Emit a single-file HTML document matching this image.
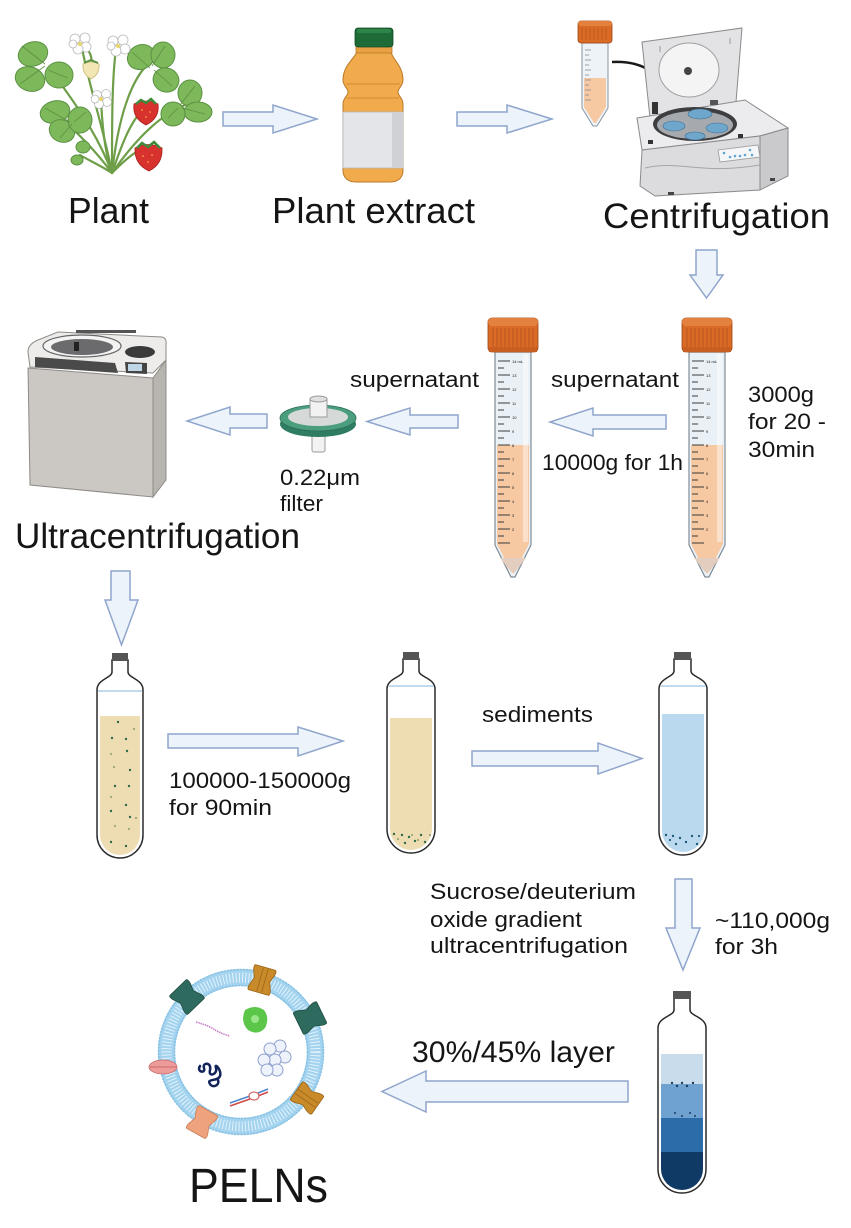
<!DOCTYPE html>
<html><head><meta charset="utf-8"><style>
html,body{margin:0;padding:0;background:#fff;}
svg{display:block;}
text{font-family:"Liberation Sans",Arial,sans-serif;fill:#151515;}
</style></head><body>
<svg width="851" height="1228" viewBox="0 0 851 1228" xmlns="http://www.w3.org/2000/svg">
<rect width="851" height="1228" fill="#fff"/>

<!-- ============ PLANT ============ -->
<g stroke="#6E9E48" stroke-width="2.2" fill="none" stroke-linecap="round">
  <path d="M112,173 C100,140 80,110 58,80"/>
  <path d="M112,173 C104,130 90,90 82,48"/>
  <path d="M112,173 C112,120 112,80 116,48"/>
  <path d="M112,173 C118,120 130,80 150,62"/>
  <path d="M112,173 C135,140 160,115 185,105"/>
  <path d="M112,173 C120,150 130,120 145,108"/>
  <path d="M112,173 C125,160 138,148 148,148"/>
  <path d="M112,173 C104,150 102,120 101,100"/>
  <path d="M112,173 C95,150 75,130 62,120"/>
  <path d="M112,173 C100,165 88,160 80,155"/>
  <path d="M88,50 C92,56 92,62 91,66"/>
</g>
<g fill="#7DB85B" stroke="#5B9142" stroke-width="1">
  <ellipse cx="33" cy="54" rx="15" ry="12" transform="rotate(-20 33 54)"/>
  <ellipse cx="30" cy="79" rx="15" ry="12" transform="rotate(20 30 79)"/>
  <ellipse cx="59" cy="75" rx="14" ry="13"/>
  <ellipse cx="141" cy="57" rx="14" ry="12" transform="rotate(-30 141 57)"/>
  <ellipse cx="163" cy="55" rx="12" ry="13"/>
  <ellipse cx="166" cy="80" rx="13" ry="12" transform="rotate(20 166 80)"/>
  <ellipse cx="190" cy="93" rx="12" ry="13"/>
  <ellipse cx="198" cy="112" rx="14" ry="10"/>
  <ellipse cx="173" cy="114" rx="12" ry="12"/>
  <ellipse cx="55" cy="112" rx="15" ry="11" transform="rotate(-15 55 112)"/>
  <ellipse cx="62" cy="131" rx="13" ry="11" transform="rotate(25 62 131)"/>
  <ellipse cx="80" cy="120" rx="12" ry="13"/>
  <ellipse cx="83" cy="147" rx="7" ry="6"/>
  <ellipse cx="77" cy="160" rx="6" ry="5"/>
</g>
<g stroke="#5B9142" stroke-width="0.8" fill="none">
  <path d="M45,64 L22,46 M45,66 L20,84 M48,70 L68,78 M150,68 L132,52 M152,66 L165,46 M154,70 L172,86 M180,105 L195,86 M182,108 L205,114 M178,108 L168,118 M70,122 L45,108 M72,124 L60,138 M74,122 L86,112"/>
</g>
<!-- flowers -->
<g fill="#fff" stroke="#B9B9B9" stroke-width="0.8">
  <circle cx="75" cy="39" r="5"/><circle cx="85" cy="38" r="5"/><circle cx="86" cy="47" r="5"/><circle cx="78" cy="49" r="5"/><circle cx="73" cy="44" r="4"/>
  <circle cx="113" cy="41" r="5"/><circle cx="123" cy="40" r="5"/><circle cx="125" cy="49" r="5"/><circle cx="116" cy="51" r="5"/><circle cx="111" cy="46" r="4"/>
  <circle cx="97" cy="95" r="4.5"/><circle cx="106" cy="94" r="4.5"/><circle cx="107" cy="102" r="4.5"/><circle cx="99" cy="104" r="4.5"/><circle cx="95" cy="99" r="4"/>
</g>
<circle cx="80" cy="44" r="2" fill="#E8D56A"/><circle cx="118" cy="46" r="2" fill="#E8D56A"/><circle cx="101" cy="99" r="2" fill="#E8D56A"/>
<!-- white strawberry -->
<path d="M83,64 Q91,60 99,64 Q100,74 91,79 Q82,74 83,64 Z" fill="#F1E6B4" stroke="#C9B97A" stroke-width="0.8"/>
<path d="M84,63 L91,60 L98,63" stroke="#5B9142" stroke-width="2" fill="none"/>
<!-- red strawberries -->
<path d="M134,104 Q146,98 158,104 Q160,118 146,125 Q132,118 134,104 Z" fill="#D8322E" stroke="#A8221F" stroke-width="0.8"/>
<path d="M136,104 L141,100 L146,103 L151,99 L156,104" stroke="#3E8A3A" stroke-width="2.5" fill="none"/>
<path d="M135,148 Q148,141 162,148 Q163,164 149,171 Q134,164 135,148 Z" fill="#D8322E" stroke="#A8221F" stroke-width="0.8"/>
<path d="M137,148 L142,143 L148,147 L154,142 L160,148" stroke="#3E8A3A" stroke-width="2.5" fill="none"/>
<g fill="#F5C04A"><circle cx="142" cy="110" r="0.8"/><circle cx="150" cy="112" r="0.8"/><circle cx="146" cy="117" r="0.8"/><circle cx="143" cy="156" r="0.8"/><circle cx="152" cy="155" r="0.8"/><circle cx="148" cy="162" r="0.8"/></g>

<text x="68" y="223" font-size="36" textLength="81" lengthAdjust="spacingAndGlyphs">Plant</text>

<!-- ============ BOTTLE ============ -->
<path d="M357,52 H391 C393,60 403,66 403,80 C403,86 398,88 398,92 C398,96 403,98 403,104 V170 C403,178 398,182 390,182 H356 C348,182 343,178 343,170 V104 C343,98 348,96 348,92 C348,88 343,86 343,80 C343,66 353,60 357,52 Z" fill="#F2AB4C" stroke="#B87A2A" stroke-width="1"/>
<path d="M346,84 H400 M347,98 H399" stroke="#D48B2E" stroke-width="1"/>
<rect x="343" y="112" width="60" height="56" fill="#E4E5E8" stroke="#B5B7BA" stroke-width="0.8"/>
<rect x="392" y="112" width="11" height="56" fill="#CFD1D4"/>
<rect x="356" y="45" width="36" height="8" fill="#E9A043" stroke="#B87A2A" stroke-width="0.8"/>
<rect x="355" y="28" width="38" height="19" rx="3" fill="#1F6B38" stroke="#124A26" stroke-width="0.8"/>
<rect x="357" y="29" width="34" height="4" rx="2" fill="#2E8549"/>

<text x="272" y="223" font-size="36" textLength="203" lengthAdjust="spacingAndGlyphs">Plant extract</text>

<!-- ============ SMALL TUBE TOP ============ -->
<path d="M582,43 H608 V108 L597,126 H593 L582,108 Z" fill="#EEF3F7" stroke="#8795A0" stroke-width="1"/>
<path d="M584,78 H606 V107 L596,123 H594 L584,107 Z" fill="#F7C9A3"/>
<g stroke="#7A8690" stroke-width="0.7"><path d="M585,50 H591 M585,55 H589 M585,60 H591 M585,65 H589 M585,70 H591 M585,75 H589 M585,80 H591 M585,85 H589 M585,90 H591 M585,95 H589 M585,100 H591"/></g>
<rect x="578" y="21" width="34" height="22" rx="3" fill="#D96B27" stroke="#9C4616" stroke-width="0.8"/>
<rect x="578" y="21" width="34" height="5" rx="2.5" fill="#E5813E"/>
<g stroke="#B8561C" stroke-width="0.8"><path d="M582,28 V40 M586,28 V40 M590,28 V40 M594,28 V40 M598,28 V40 M602,28 V40 M606,28 V40"/></g>

<!-- curved arrow -->
<path d="M612,62 Q652,60 666,90" stroke="#1a1a1a" stroke-width="2.5" fill="none"/>
<path d="M658,88 L673,104 L675,83 Z" fill="#1a1a1a"/>

<!-- ============ CENTRIFUGE ============ -->
<polygon points="642,42 742,28 736,102 650,118" fill="#E3E3E5" stroke="#8A8A8C" stroke-width="1"/>
<ellipse cx="689" cy="70" rx="30" ry="27" fill="#F4F4F5" stroke="#A0A0A2" stroke-width="1"/>
<circle cx="688" cy="71" r="4" fill="#444"/>
<path d="M660,46 v6 M730,38 v6" stroke="#999" stroke-width="1"/>
<!-- top face -->
<polygon points="637,118 745,100 788,128 760,136 642,150" fill="#ECECEE" stroke="#8A8A8C" stroke-width="1"/>
<!-- front face -->
<polygon points="642,150 760,136 760,190 655,196 640,186" fill="#DCDCDE" stroke="#8A8A8C" stroke-width="1"/>
<!-- right face -->
<polygon points="760,136 788,128 788,176 760,190" fill="#CACACD" stroke="#8A8A8C" stroke-width="1"/>
<path d="M645,168 C680,160 700,175 760,165" stroke="#A5A5A8" stroke-width="1" fill="none"/>
<!-- bowl -->
<ellipse cx="695" cy="124" rx="42" ry="17" fill="#3E3E40"/>
<ellipse cx="695" cy="125" rx="38" ry="14" fill="#A6AAAE"/>
<g fill="#6FA6CC" stroke="#3F6F92" stroke-width="0.6">
  <ellipse cx="700" cy="114" rx="12" ry="5"/>
  <ellipse cx="674" cy="126" rx="11" ry="5"/>
  <ellipse cx="717" cy="128" rx="11" ry="5"/>
  <ellipse cx="695" cy="136" rx="10" ry="4"/>
</g>
<rect x="652" y="102" width="6" height="12" fill="#333"/>
<rect x="710" y="100" width="8" height="5" fill="#555"/>
<rect x="648" y="140" width="5" height="4" fill="#333"/>
<rect x="738" y="134" width="5" height="4" fill="#333"/>
<polygon points="718,150 758,145 760,157 720,162" fill="#F5F6F8" stroke="#9A9A9C" stroke-width="0.8"/>
<g fill="#5FA5D2"><circle cx="724" cy="153" r="1.3"/><circle cx="730" cy="157" r="1.3"/><circle cx="735" cy="156" r="1.3"/><circle cx="740" cy="156" r="1.3"/><circle cx="745" cy="155" r="1.3"/><circle cx="750" cy="150" r="1.3"/><circle cx="752" cy="155" r="1.3"/></g>
<rect x="668" y="192" width="6" height="3" fill="#444"/><rect x="770" y="178" width="5" height="3" fill="#444"/>

<text x="603" y="228" font-size="35" textLength="227" lengthAdjust="spacingAndGlyphs">Centrifugation</text>

<!-- ============ ARROWS ============ -->
<g fill="#EDF3FB" stroke="#8FA5CB" stroke-width="1.5" stroke-linejoin="miter">
  <polygon points="223,112 273,112 273,105 317,119 273,133 273,126 223,126"/>
  <polygon points="457,112 507,112 507,105 552,119 507,133 507,126 457,126"/>
  <polygon points="696,250 717,250 717,275 723,275 706.5,298 690,275 696,275"/>
  <polygon points="666,415 593,415 593,408 550,422 593,436 593,429 666,429"/>
  <polygon points="458,415 410,415 410,408 367,421.5 410,435 410,428 458,428"/>
  <polygon points="267,414 230,414 230,407 187,421 230,435 230,428 267,428"/>
  <polygon points="111,571 130,571 130,600 138,600 121.5,645 105,600 111,600"/>
  <polygon points="168,734 298,734 298,727 343,741 298,756 298,748 168,748"/>
  <polygon points="472,751 598,751 598,743 642,758.5 598,774 598,766 472,766"/>
  <polygon points="675,879 692,879 692,928 700,928 683,970 666,928 675,928"/>
  <polygon points="628,1081 426,1081 426,1071 382,1091.5 426,1112 426,1102 628,1102"/>
</g>

<!-- ============ ULTRACENTRIFUGE ============ -->
<polygon points="28,368 153,378 153,497 30,485" fill="#CBC8C4" stroke="#8E8B87" stroke-width="1"/>
<polygon points="153,378 166,360 166,480 153,497" fill="#B8B5B1" stroke="#8E8B87" stroke-width="1"/>
<path d="M28,352 Q28,344 38,340 L58,332 L162,337 Q167,338 166,345 L166,360 L153,373 L30,367 Z" fill="#EDECEA" stroke="#8E8B87" stroke-width="1"/>
<rect x="76" y="330" width="60" height="3" fill="#555"/>
<polygon points="35,357 115,363 118,373 35,367" fill="#4A4A4A"/>
<ellipse cx="82" cy="346" rx="39" ry="11" fill="#F3F3F3" stroke="#666" stroke-width="1.2"/>
<ellipse cx="82" cy="347" rx="31" ry="8" fill="#6B6B6D"/>
<rect x="74" y="342" width="5" height="9" fill="#222"/>
<ellipse cx="140" cy="352" rx="15" ry="6" fill="#3A3A3A"/>
<polygon points="125,362 147,363 147,374 126,373" fill="#444"/>
<rect x="128" y="364" width="14" height="7" fill="#BFD6E6"/>

<text x="15" y="548" font-size="35" textLength="285" lengthAdjust="spacingAndGlyphs">Ultracentrifugation</text>

<!-- ============ FILTER ============ -->
<rect x="312" y="426" width="13" height="26" rx="2" fill="#F2F2F2" stroke="#9A9A9A" stroke-width="1"/>
<ellipse cx="318" cy="424" rx="38" ry="13" fill="#2E7D63"/>
<ellipse cx="318" cy="418" rx="38" ry="13" fill="#4A9E7E" stroke="#2B6E56" stroke-width="0.8"/>
<ellipse cx="318" cy="417" rx="30" ry="9" fill="#D5D9D8"/>
<rect x="310" y="399" width="17" height="18" fill="#F2F2F2" stroke="#9A9A9A" stroke-width="1"/>
<ellipse cx="318.5" cy="399" rx="8.5" ry="3" fill="#E0E0E0" stroke="#9A9A9A" stroke-width="1"/>

<text x="280" y="485" font-size="22" textLength="80" lengthAdjust="spacingAndGlyphs">0.22μm</text>
<text x="280" y="511" font-size="22" textLength="43" lengthAdjust="spacingAndGlyphs">filter</text>
<text x="350" y="387" font-size="22" textLength="129" lengthAdjust="spacingAndGlyphs">supernatant</text>
<text x="551" y="387" font-size="22" textLength="128" lengthAdjust="spacingAndGlyphs">supernatant</text>
<text x="542" y="470" font-size="22" textLength="141" lengthAdjust="spacingAndGlyphs">10000g for 1h</text>
<text x="748" y="402" font-size="22" textLength="66" lengthAdjust="spacingAndGlyphs">3000g</text>
<text x="748" y="429" font-size="22" textLength="78" lengthAdjust="spacingAndGlyphs">for 20 -</text>
<text x="748" y="457" font-size="22" textLength="67" lengthAdjust="spacingAndGlyphs">30min</text>

<!-- ============ CONICAL TUBES ============ -->
<g transform="translate(488,318)">
  <path d="M7,34 H43 V227 L27,259 H23 L7,227 Z" fill="#EAF1F6" stroke="#7E8C96" stroke-width="1.2"/>
  <path d="M9,127 H41 V226 L26,255 H24 L9,226 Z" fill="#F7C9A3"/>
  <path d="M12,240 L38,240 L27,254 H23 Z" fill="#E2CDBE"/>
  <rect x="35" y="36" width="5" height="188" fill="#fff" opacity="0.45"/>
  <g stroke="#3A3A3A" stroke-width="0.9">
    <path d="M10,43 H22 M10,50 H16 M10,57 H22 M10,64 H16 M10,71 H22 M10,78 H16 M10,85 H22 M10,92 H16 M10,99 H22 M10,106 H16 M10,113 H22 M10,120 H16 M10,127 H22 M10,134 H16 M10,141 H22 M10,148 H16 M10,155 H22 M10,162 H16 M10,169 H22 M10,176 H16 M10,183 H22 M10,190 H16 M10,197 H22 M10,204 H16 M10,211 H22 M10,218 H16 M10,225 H22"/>
  </g>
  <g font-size="4" fill="#666"><text x="24" y="45">14 mL</text><text x="24" y="59">13</text><text x="24" y="73">12</text><text x="24" y="87">11</text><text x="24" y="101">10</text><text x="24" y="115">9</text><text x="24" y="129">8</text><text x="24" y="143">7</text><text x="24" y="157">6</text><text x="24" y="171">5</text><text x="24" y="185">4</text><text x="24" y="199">3</text><text x="24" y="213">2</text></g>
  <rect x="0" y="0" width="50" height="34" rx="4" fill="#D96B27" stroke="#9C4616" stroke-width="0.8"/>
  <rect x="0" y="0" width="50" height="8" rx="4" fill="#E5813E"/>
  <g stroke="#B8561C" stroke-width="0.9"><path d="M5,10 V29 M9,10 V29 M13,10 V29 M17,10 V29 M21,10 V29 M25,10 V29 M29,10 V29 M33,10 V29 M37,10 V29 M41,10 V29 M45,10 V29"/></g>
  <rect x="1" y="29" width="48" height="5" fill="#C85F20"/>
</g>
<g transform="translate(682,318)">
  <path d="M7,34 H43 V227 L27,259 H23 L7,227 Z" fill="#EAF1F6" stroke="#7E8C96" stroke-width="1.2"/>
  <path d="M9,127 H41 V226 L26,255 H24 L9,226 Z" fill="#F7C9A3"/>
  <path d="M12,240 L38,240 L27,254 H23 Z" fill="#E2CDBE"/>
  <rect x="35" y="36" width="5" height="188" fill="#fff" opacity="0.45"/>
  <g stroke="#3A3A3A" stroke-width="0.9">
    <path d="M10,43 H22 M10,50 H16 M10,57 H22 M10,64 H16 M10,71 H22 M10,78 H16 M10,85 H22 M10,92 H16 M10,99 H22 M10,106 H16 M10,113 H22 M10,120 H16 M10,127 H22 M10,134 H16 M10,141 H22 M10,148 H16 M10,155 H22 M10,162 H16 M10,169 H22 M10,176 H16 M10,183 H22 M10,190 H16 M10,197 H22 M10,204 H16 M10,211 H22 M10,218 H16 M10,225 H22"/>
  </g>
  <g font-size="4" fill="#666"><text x="24" y="45">14 mL</text><text x="24" y="59">13</text><text x="24" y="73">12</text><text x="24" y="87">11</text><text x="24" y="101">10</text><text x="24" y="115">9</text><text x="24" y="129">8</text><text x="24" y="143">7</text><text x="24" y="157">6</text><text x="24" y="171">5</text><text x="24" y="185">4</text><text x="24" y="199">3</text><text x="24" y="213">2</text></g>
  <rect x="0" y="0" width="50" height="34" rx="4" fill="#D96B27" stroke="#9C4616" stroke-width="0.8"/>
  <rect x="0" y="0" width="50" height="8" rx="4" fill="#E5813E"/>
  <g stroke="#B8561C" stroke-width="0.9"><path d="M5,10 V29 M9,10 V29 M13,10 V29 M17,10 V29 M21,10 V29 M25,10 V29 M29,10 V29 M33,10 V29 M37,10 V29 M41,10 V29 M45,10 V29"/></g>
  <rect x="1" y="29" width="48" height="5" fill="#C85F20"/>
</g>

<!-- ============ ULTRA TUBES ============ -->
<!-- Tube A -->
<g>
  <path d="M112,660 V672 C112,678 97,679 97,690 V835 A23,23 0 0 0 143,835 V690 C143,679 128,678 128,672 V660 Z" fill="#fff" stroke="#2A2A2A" stroke-width="1.5"/>
  <path d="M100,716 V835 A20,20 0 0 0 140,835 V716 Z" fill="#EEDDB3"/>
  <path d="M98,691 H142" stroke="#9FC3E0" stroke-width="1.2"/>
  <rect x="112" y="653" width="16" height="8" fill="#555"/>
  <g fill="#2E6B4A">
    <circle cx="118" cy="722" r="1.2"/><circle cx="112" cy="738" r="1.2"/><circle cx="126" cy="739" r="1.2"/><circle cx="127" cy="751" r="1.2"/><circle cx="130" cy="770" r="1.2"/><circle cx="115" cy="786" r="1.2"/><circle cx="129" cy="786" r="1.2"/><circle cx="126" cy="805" r="1.2"/><circle cx="111" cy="811" r="1.2"/><circle cx="130" cy="817" r="1.2"/><circle cx="111" cy="842" r="1.2"/><circle cx="126" cy="846" r="1.2"/>
  </g>
  <g fill="#9AA77A">
    <circle cx="134" cy="729" r="1.1"/><circle cx="111" cy="754" r="1.1"/><circle cx="114" cy="767" r="1.1"/><circle cx="111" cy="797" r="1.1"/><circle cx="136" cy="818" r="1.1"/><circle cx="115" cy="826" r="1.1"/><circle cx="129" cy="829" r="1.1"/>
  </g>
</g>
<!-- Tube B -->
<g>
  <path d="M403,659 V671 C403,677 387,678 387,689 V829 A24,24 0 0 0 435,829 V689 C435,678 419,677 419,671 V659 Z" fill="#fff" stroke="#2A2A2A" stroke-width="1.5"/>
  <path d="M390,718 V829 A21,21 0 0 0 432,829 V718 Z" fill="#EEDDB3"/>
  <path d="M388,686 H434" stroke="#9FC3E0" stroke-width="1.2"/>
  <rect x="403" y="652" width="16" height="8" fill="#555"/>
  <g fill="#2E6B4A"><circle cx="394" cy="834" r="1.2"/><circle cx="402" cy="835" r="1.2"/><circle cx="409" cy="837" r="1.2"/><circle cx="415" cy="841" r="1.2"/><circle cx="421" cy="835" r="1.2"/><circle cx="425" cy="842" r="1.2"/><circle cx="405" cy="843" r="1.2"/></g>
  <g fill="#9AA77A"><circle cx="398" cy="839" r="1.1"/><circle cx="412" cy="835" r="1.1"/><circle cx="418" cy="840" r="1.1"/><circle cx="430" cy="835" r="1.1"/></g>
</g>
<!-- Tube C -->
<g>
  <path d="M674,659 V671 C674,677 659,678 659,689 V831 A24,24 0 0 0 707,831 V689 C707,678 691,677 691,671 V659 Z" fill="#fff" stroke="#2A2A2A" stroke-width="1.5"/>
  <path d="M662,714 V831 A21,21 0 0 0 704,831 V714 Z" fill="#BBD9EE"/>
  <path d="M660,686 H706" stroke="#9FC3E0" stroke-width="1.2"/>
  <rect x="674" y="652" width="17" height="8" fill="#555"/>
  <g fill="#1F5A78"><circle cx="666" cy="835" r="1.2"/><circle cx="673" cy="836" r="1.2"/><circle cx="680" cy="838" r="1.2"/><circle cx="686" cy="842" r="1.2"/><circle cx="692" cy="836" r="1.2"/><circle cx="697" cy="844" r="1.2"/><circle cx="676" cy="844" r="1.2"/><circle cx="699" cy="836" r="1.1"/><circle cx="670" cy="840" r="1.1"/></g>
</g>
<!-- Tube D -->
<g>
  <path d="M674,998 V1010 C674,1016 658,1017 658,1028 V1169 A24,24 0 0 0 706,1169 V1028 C706,1017 690,1016 690,1010 V998 Z" fill="#fff" stroke="#2A2A2A" stroke-width="1.5"/>
  <rect x="661" y="1054" width="42" height="30" fill="#C8DCEC"/>
  <rect x="661" y="1084" width="42" height="34" fill="#6FA2D0"/>
  <rect x="661" y="1118" width="42" height="34" fill="#2C6CA8"/>
  <path d="M661,1152 V1169 A21,21 0 0 0 703,1169 V1152 Z" fill="#103A66"/>
  <rect x="673" y="991" width="18" height="8" fill="#555"/>
  <g fill="#1B3F5E"><circle cx="672" cy="1083" r="1.2"/><circle cx="677" cy="1086" r="1.2"/><circle cx="682" cy="1083" r="1.2"/><circle cx="687" cy="1086" r="1.2"/><circle cx="693" cy="1083" r="1.2"/><circle cx="675" cy="1113" r="1"/><circle cx="682" cy="1116" r="1"/><circle cx="690" cy="1113" r="1"/><circle cx="695" cy="1116" r="1"/></g>
</g>

<text x="169" y="788" font-size="22" textLength="182" lengthAdjust="spacingAndGlyphs">100000-150000g</text>
<text x="169" y="815" font-size="22" textLength="103" lengthAdjust="spacingAndGlyphs">for 90min</text>
<text x="482" y="722" font-size="22" textLength="111" lengthAdjust="spacingAndGlyphs">sediments</text>
<text x="430" y="899" font-size="22" textLength="206" lengthAdjust="spacingAndGlyphs">Sucrose/deuterium</text>
<text x="430" y="927" font-size="22" textLength="152" lengthAdjust="spacingAndGlyphs">oxide gradient</text>
<text x="430" y="953" font-size="22" textLength="198" lengthAdjust="spacingAndGlyphs">ultracentrifugation</text>
<text x="715" y="928" font-size="22" textLength="115" lengthAdjust="spacingAndGlyphs">~110,000g</text>
<text x="715" y="954" font-size="22" textLength="63" lengthAdjust="spacingAndGlyphs">for 3h</text>
<text x="412" y="1062" font-size="30" textLength="203" lengthAdjust="spacingAndGlyphs">30%/45% layer</text>

<!-- ============ PELN ============ -->
<circle cx="241" cy="1052" r="74.5" fill="none" stroke="#A3D3EE" stroke-width="17"/>
<circle cx="241" cy="1052" r="74.5" fill="none" stroke="#E4F3FB" stroke-width="10" stroke-dasharray="1 2.2"/>
<circle cx="241" cy="1052" r="82.5" fill="none" stroke="#86C1E3" stroke-width="1.5" stroke-dasharray="2.2 1"/>
<circle cx="241" cy="1052" r="66.5" fill="none" stroke="#86C1E3" stroke-width="1.5" stroke-dasharray="2.2 1"/>
<!-- proteins -->
<g transform="translate(187,997) rotate(-44)"><path d="M-11,-13 H11 Q13,-13 12,-8 L9,0 L12,8 Q13,13 11,13 H-11 Q-13,13 -12,8 L-9,0 L-12,-8 Q-13,-13 -11,-13 Z" fill="#2E6B5E" stroke="#1E4A40" stroke-width="0.8"/></g>
<g transform="translate(310,1018) rotate(64)"><path d="M-11,-13 H11 Q13,-13 12,-8 L9,0 L12,8 Q13,13 11,13 H-11 Q-13,13 -12,8 L-9,0 L-12,-8 Q-13,-13 -11,-13 Z" fill="#2E6B5E" stroke="#1E4A40" stroke-width="0.8"/></g>
<g transform="translate(262,980) rotate(16)"><path d="M-10,-13 H10 Q12,-13 11,-8 L8,0 L11,8 Q12,13 10,13 H-10 Q-12,13 -11,8 L-8,0 L-11,-8 Q-12,-13 -10,-13 Z" fill="#C98A2A" stroke="#956316" stroke-width="0.8"/><path d="M-2,-12 V12 M3,-12 V12" stroke="#A56E1C" stroke-width="1"/></g>
<g transform="translate(307,1098) rotate(125)"><path d="M-10,-13 H10 Q12,-13 11,-8 L8,0 L11,8 Q12,13 10,13 H-10 Q-12,13 -11,8 L-8,0 L-11,-8 Q-12,-13 -10,-13 Z" fill="#C98A2A" stroke="#956316" stroke-width="0.8"/><path d="M-2,-12 V12 M3,-12 V12" stroke="#A56E1C" stroke-width="1"/></g>
<g transform="translate(202,1122) rotate(209)"><path d="M-10,-13 H10 Q12,-13 11,-8 L8,0 L11,8 Q12,13 10,13 H-10 Q-12,13 -11,8 L-8,0 L-11,-8 Q-12,-13 -10,-13 Z" fill="#EFA37C" stroke="#C97D58" stroke-width="0.8"/></g>
<ellipse cx="163" cy="1067" rx="14" ry="7" fill="#EC9A9A" stroke="#C86A6A" stroke-width="0.8"/>
<path d="M150,1067 H176" stroke="#C05A5A" stroke-width="0.8"/>
<!-- cargo -->
<path d="M245,1010 Q255,1004 264,1010 Q270,1018 265,1028 Q258,1036 248,1030 Q240,1022 245,1010 Z" fill="#5CC64A"/>
<circle cx="255" cy="1019" r="4" fill="#9BE68A"/>
<g fill="#EEF2FA" stroke="#8FA0CF" stroke-width="1">
  <circle cx="280" cy="1046" r="6"/><circle cx="270" cy="1049" r="6"/><circle cx="285" cy="1057" r="6"/><circle cx="275" cy="1060" r="6"/><circle cx="264" cy="1060" r="6"/><circle cx="277" cy="1070" r="6"/><circle cx="267" cy="1070" r="6"/>
</g>
<path d="M200,1066 C196,1072 206,1074 204,1068 C202,1062 212,1062 210,1070 C208,1078 218,1074 216,1068 C214,1062 222,1070 220,1076 C218,1082 206,1078 210,1084 C212,1088 220,1086 218,1080" stroke="#13245A" stroke-width="2.5" fill="none" stroke-linecap="round"/>
<path d="M196,1022 Q210,1026 215,1030 Q222,1034 230,1036" stroke="#C77BC5" stroke-width="1.5" fill="none" stroke-dasharray="1.5 0.8"/>
<path d="M230,1106 L250,1099 M258,1096 L268,1092" stroke="#D04848" stroke-width="1.5"/>
<path d="M230,1103 L250,1096 M258,1093 L268,1089" stroke="#4A86D0" stroke-width="1.5"/>
<ellipse cx="254" cy="1096" rx="5" ry="4" fill="#fff" stroke="#D04848" stroke-width="1"/>

<text x="189" y="1202" font-size="48" textLength="139" lengthAdjust="spacingAndGlyphs">PELNs</text>
</svg>
</body></html>
